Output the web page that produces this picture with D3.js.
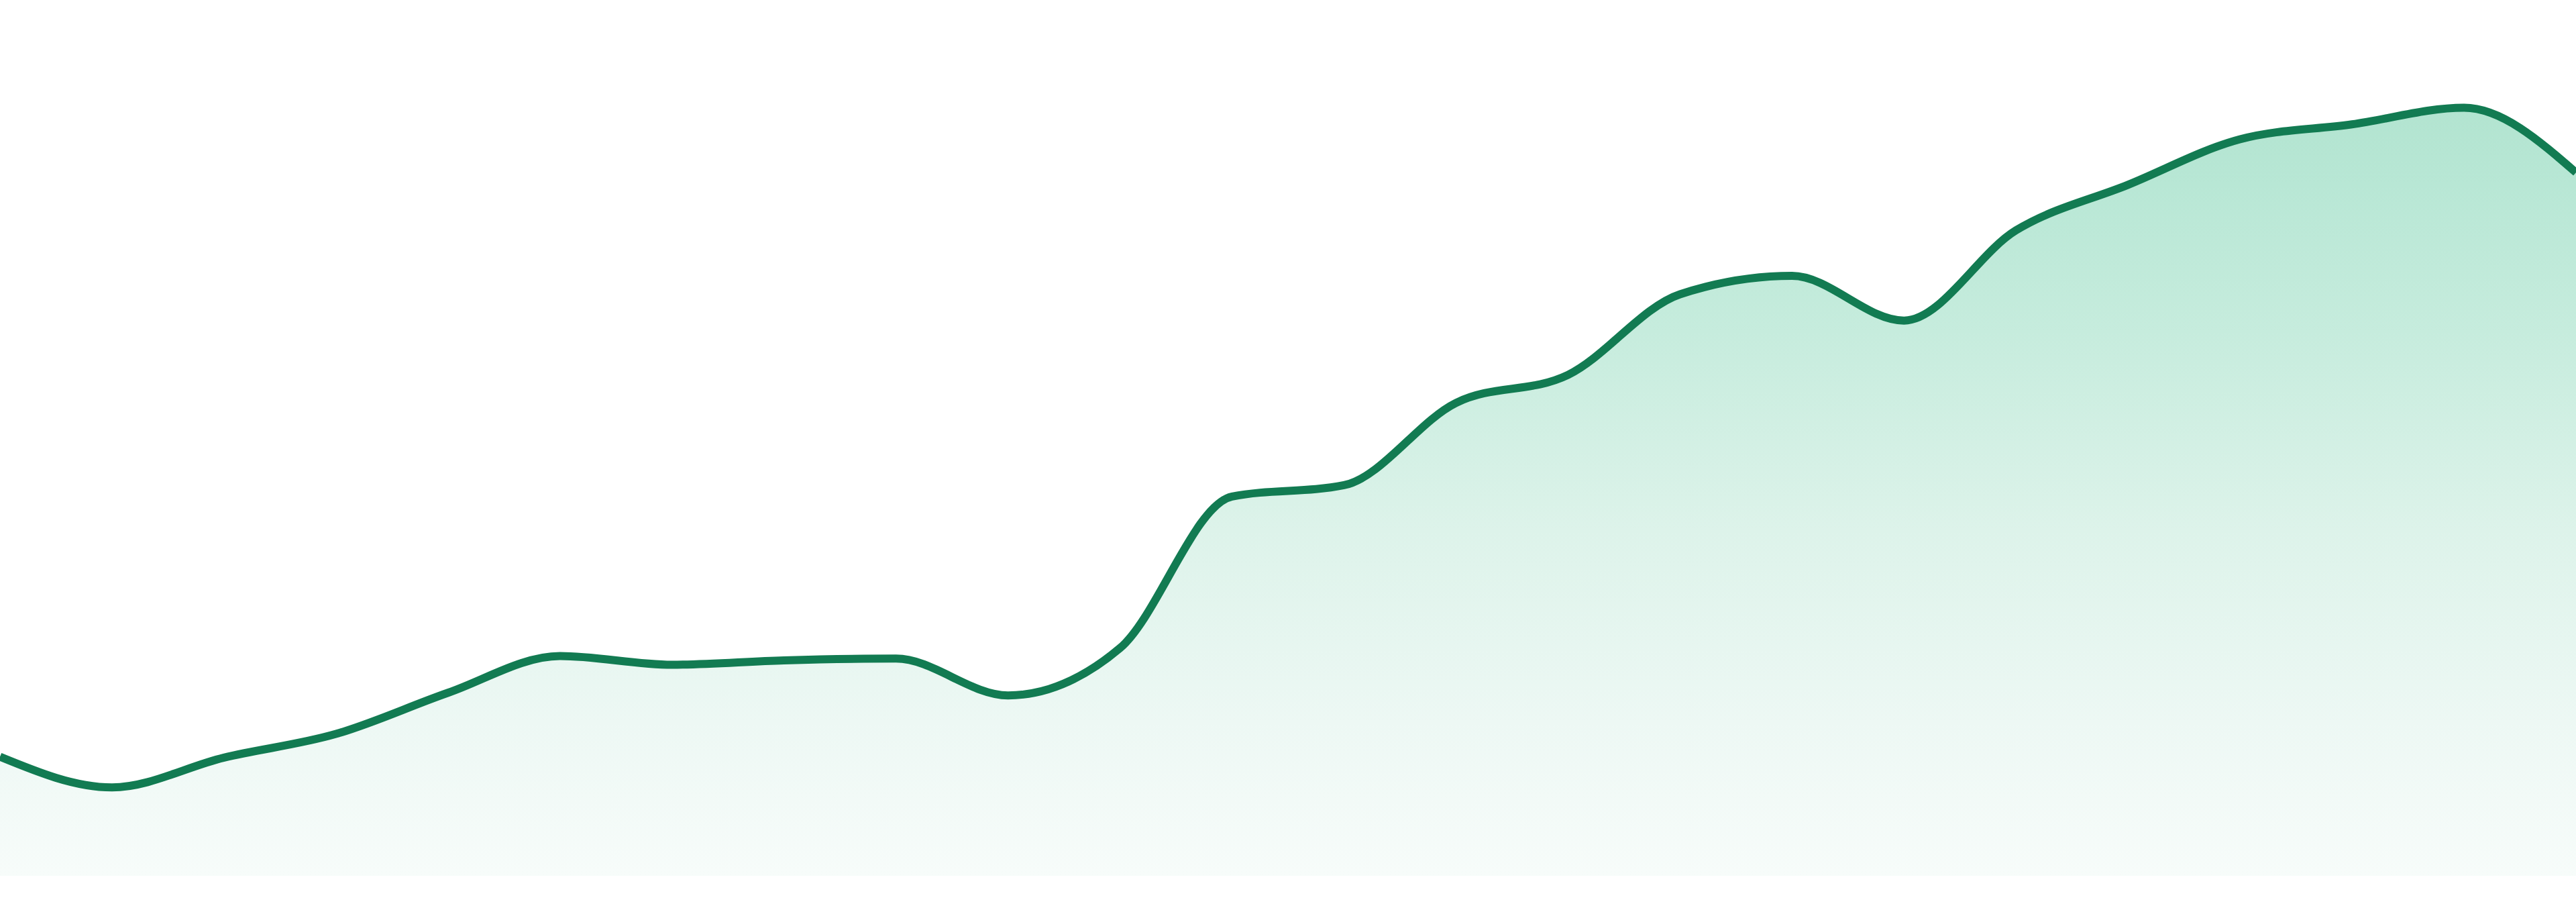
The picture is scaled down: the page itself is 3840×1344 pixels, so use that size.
<!DOCTYPE html>
<html>
<head>
<meta charset="utf-8">
<script src="https://cdn.jsdelivr.net/npm/d3@7"></script>
<style>
  html, body { margin: 0; padding: 0; background: #ffffff; }
  svg { display: block; }
</style>
</head>
<body>
<div id="chart"></div>
<script>
// taille du dessin
const margin = {top: 0, right: 0, bottom: 39, left: 0};
const width = 3840;
const height = 1344;

// donnees
const periods = d3.range(1, 25).map(String);
const values = [13.6, 10.1, 13.5, 16.2, 20.9, 25.1, 24.1, 24.6, 24.8, 20.6, 26.0, 43.3,
                44.6, 54.0, 57.2, 66.4, 68.5, 63.4, 73.7, 78.9, 84.1, 85.8, 87.7, 80.3];
const yDomain = [0, 100];

const data = periods.map((p, i) => ({period: p, value: values[i]}));

var svg = d3
    .select("#chart")
    .append("svg")
    .attr("width", width)
    .attr("height", height);

var x = d3.scalePoint()
    .domain(periods)
    .range([margin.left, width - margin.right]);

var y = d3.scaleLinear()
    .domain(yDomain)
    .range([height - margin.bottom, margin.top]);

// degrade du remplissage
var grad = svg.append("defs")
    .append("linearGradient")
    .attr("id", "fill-grad")
    .attr("x1", 0).attr("y1", 0)
    .attr("x2", 0).attr("y2", 1);

[[0, "#b2e4d0"], [0.1, "#b8e7d5"], [0.29, "#c6ecdd"], [0.55, "#ddf3ea"],
 [0.8, "#edf8f4"], [1, "#f7fcfa"]].forEach(s => {
    grad.append("stop").attr("offset", s[0]).attr("stop-color", s[1]);
});

var area = d3.area()
    .x(d => x(d.period))
    .y0(y(0))
    .y1(d => y(d.value))
    .curve(d3.curveMonotoneX);

var line = d3.line()
    .x(d => x(d.period))
    .y(d => y(d.value))
    .curve(d3.curveMonotoneX);

svg.append("path")
    .datum(data)
    .attr("d", area)
    .style("fill", "url(#fill-grad)");

svg.append("path")
    .datum(data)
    .attr("d", line)
    .style("fill", "none")
    .style("stroke", "#127b52")
    .style("stroke-width", 12)
    .style("stroke-linejoin", "round");
</script>
</body>
</html>
